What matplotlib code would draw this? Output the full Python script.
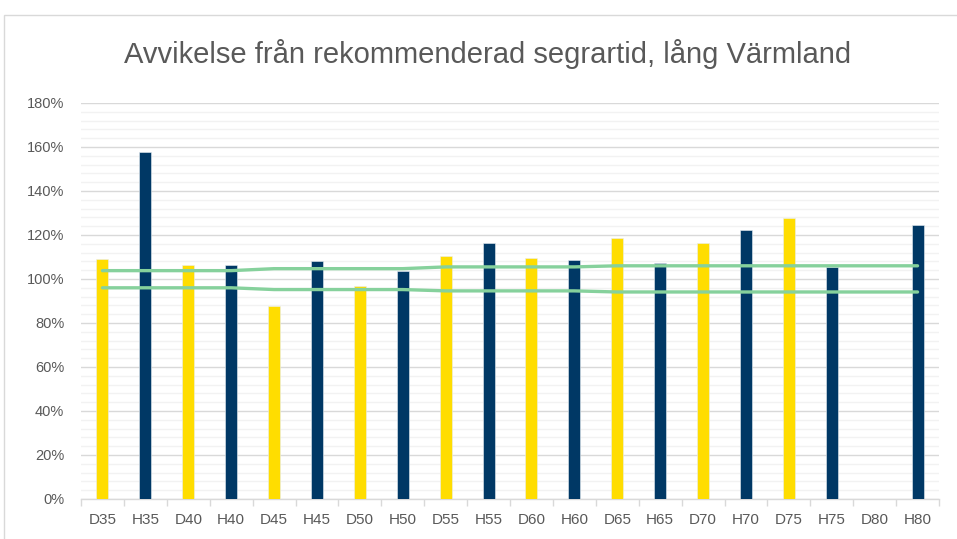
import matplotlib.pyplot as plt
import numpy as np
from matplotlib.ticker import MultipleLocator, FuncFormatter, FixedLocator
from matplotlib.patches import Rectangle

# Data
klasser = ['D35', 'H35', 'D40', 'H40', 'D45', 'H45', 'D50', 'H50', 'D55', 'H55',
           'D60', 'H60', 'D65', 'H65', 'D70', 'H70', 'D75', 'H75', 'D80', 'H80']
avvikelse = [109.1, 157.9, 106.4, 106.4, 87.7, 108.0, 96.8, 103.5, 110.5, 116.4,
             109.7, 108.6, 118.5, 107.1, 116.5, 122.3, 127.9, 105.6, 0, 124.4]
ovre_grans = [103.8, 103.8, 103.8, 103.8, 104.7, 104.7, 104.7, 104.7, 105.5, 105.5,
              105.5, 105.5, 106.0, 106.0, 106.0, 106.0, 106.0, 106.0, 106.0, 106.0]
undre_grans = [96.0, 96.0, 96.0, 96.0, 95.2, 95.2, 95.2, 95.2, 94.6, 94.6,
               94.6, 94.6, 94.1, 94.1, 94.1, 94.1, 94.1, 94.1, 94.1, 94.1]

gul = '#FFDD00'
bla = '#003865'
gron = '#86D19C'
textfarg = '#595959'

plt.rcParams['font.family'] = ['Liberation Sans', 'DejaVu Sans']

fig = plt.figure(figsize=(9.57, 5.39), dpi=100)
ax = fig.add_axes([81 / 957, 1 - 499 / 539, (939 - 81) / 957, (499 - 103) / 539])

# Chart border
fig.patches.append(Rectangle((4 / 957, -0.1), 1.1, 1 - 15 / 539 + 0.1,
                             transform=fig.transFigure, fill=False,
                             edgecolor='#D9D9D9', linewidth=1))

x = np.arange(len(klasser))
farger = [gul if k.startswith('D') else bla for k in klasser]
ax.bar(x, avvikelse, width=0.28, color=farger, edgecolor='#E8EEF3',
       linewidth=0.4, zorder=3)

ax.plot(x, ovre_grans, color=gron, linewidth=2.4, solid_capstyle='round', zorder=4)
ax.plot(x, undre_grans, color=gron, linewidth=2.4, solid_capstyle='round', zorder=4)

ax.set_xlim(-0.5, len(klasser) - 0.5)
ax.set_ylim(0, 180)

# Y axis: major every 20 %, minor grid every 4 %
ax.yaxis.set_major_locator(MultipleLocator(20))
ax.yaxis.set_minor_locator(MultipleLocator(4))
ax.yaxis.set_major_formatter(FuncFormatter(lambda v, p: f'{v:.0f}%'))
ax.grid(axis='y', which='major', color='#D9D9D9', linewidth=1, zorder=0)
ax.grid(axis='y', which='minor', color='#F2F2F2', linewidth=1, zorder=0)
ax.tick_params(axis='y', which='both', length=0, labelsize=10.5,
               labelcolor=textfarg, pad=12)

# X axis: tick marks at category boundaries, labels at centres
ax.xaxis.set_major_locator(FixedLocator(np.arange(-0.5, len(klasser), 1.0)))
ax.xaxis.set_major_formatter(FuncFormatter(lambda v, p: ''))
ax.xaxis.set_minor_locator(FixedLocator(x))
ax.set_xticklabels(klasser, minor=True)
ax.tick_params(axis='x', which='major', length=5, color='#D9D9D9', width=1)
ax.tick_params(axis='x', which='minor', length=0, labelsize=11,
               labelcolor=textfarg, pad=10)

for side in ['top', 'right', 'left']:
    ax.spines[side].set_visible(False)
ax.spines['bottom'].set_color('#D9D9D9')
ax.spines['bottom'].set_linewidth(1)
ax.set_axisbelow(True)

fig.text(488 / 957, 1 - 54 / 539, 'Avvikelse från rekommenderad segrartid, lång Värmland',
         ha='center', va='center', fontsize=21, color=textfarg)

fig.savefig('out.png', dpi=100)
